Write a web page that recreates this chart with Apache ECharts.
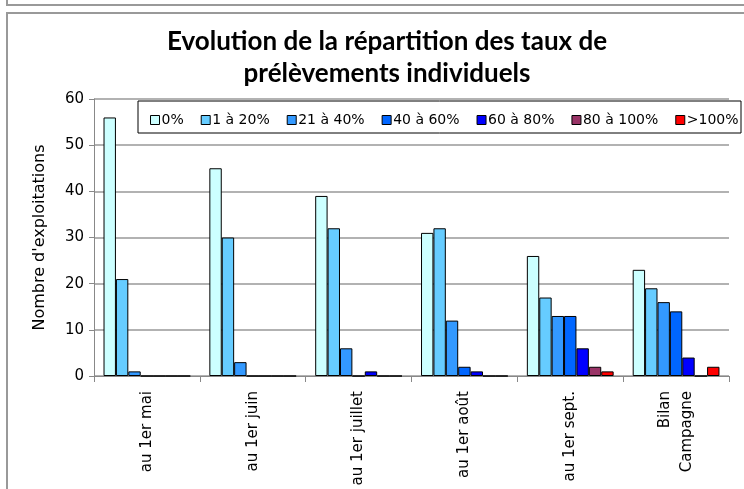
<!DOCTYPE html>
<html><head><meta charset="utf-8">
<script src="https://cdn.jsdelivr.net/npm/echarts@6/dist/echarts.min.js"></script>
<style>html,body{margin:0;padding:0;background:#fff}#c{width:744px;height:489px}</style>
</head><body><div id="c"></div>
<script>
const categories = ['au 1er mai','au 1er juin','au 1er juillet','au 1er août','au 1er sept.','Bilan\nCampagne'];
const seriesNames = ['0%','1 à 20%','21 à 40%','40 à 60%','60 à 80%','80 à 100%','>100%'];
const s0   = [56, 45, 39, 31, 26, 23];
const s20  = [21, 30, 32, 32, 17, 19];
const s40  = [1, 3, 6, 12, 13, 16];
const s60  = [0, 0, 0, 2, 13, 14];
const s80  = [0, 0, 1, 1, 6, 4];
const s100 = [0, 0, 0, 0, 2, 0];
const sOver= [0, 0, 0, 0, 1, 2];
const yTicks = [0, 10, 20, 30, 40, 50, 60];
const colors = ['#CCFFFF','#66CCFF','#3399FF','#0066FF','#0000FF','#993366','#FF0000'];
const allData = [s0, s20, s40, s60, s80, s100, sOver];

const chart = echarts.init(document.getElementById('c'));
const tfont = "Lato,'Liberation Sans',sans-serif";
const font = "'DejaVu Sans',sans-serif";
chart.setOption({
  animation: false,
  title: {
    text: 'Evolution de la répartition des taux de\nprélèvements individuels',
    left: 382, top: 21, textAlign: 'center',
    textStyle: {fontFamily: tfont, fontWeight: 'bold', fontSize: 26, lineHeight: 32, color: '#000'}
  },
  graphic: [
    {type: 'rect', shape: {x: 7, y: -10, width: 760, height: 15}, style: {fill: 'none', stroke: '#999', lineWidth: 2}, silent: true},
    {type: 'rect', shape: {x: 7, y: 13, width: 760, height: 500}, style: {fill: 'none', stroke: '#999', lineWidth: 2}, silent: true},
    {type: 'rect', shape: {x: 138, y: 101, width: 603, height: 32}, style: {fill: '#fff', stroke: '#000', lineWidth: 1}, z: 5, silent: true}
  ],
  legend: {
    left: 145, top: 108, itemGap: 17, itemWidth: 9, itemHeight: 9,
    icon: 'rect', z: 10,
    textStyle: {fontFamily: font, fontSize: 14, color: '#000', padding: [0,0,0,-3]},
    data: seriesNames.map((n,i)=>({name:n, itemStyle:{color:colors[i], borderColor:'#000', borderWidth:1}}))
  },
  grid: {left: 94, right: 15, top: 99, bottom: 113, containLabel: false},
  xAxis: {
    type: 'category', data: categories,
    axisLine: {lineStyle: {color: '#888', width: 1}},
    axisTick: {show: true, alignWithLabel: false, length: 6, lineStyle: {color: '#888'}},
    axisLabel: {rotate: 90, fontFamily: font, fontSize: 15, color: '#000', margin: 15, lineHeight: 22, align: 'right'}
  },
  yAxis: {
    type: 'value', min: 0, max: 60, interval: 10,
    name: "Nombre d'exploitations", nameLocation: 'middle', nameGap: 46, nameRotate: 90,
    nameTextStyle: {fontFamily: font, fontSize: 16, color: '#000'},
    axisLine: {show: true, lineStyle: {color: '#888'}},
    axisTick: {show: true, inside: false, length: 5, lineStyle: {color: '#888'}},
    axisLabel: {fontFamily: font, fontSize: 15, color: '#000', margin: 10,
      formatter: v => yTicks.includes(v) ? String(v) : ''},
    splitLine: {lineStyle: {color: '#999', width: 1.5}}
  },
  series: allData.map((d,i)=>({
    name: seriesNames[i], type: 'bar', data: d,
    barGap: '0%', barCategoryGap: '18%',
    itemStyle: {color: colors[i], borderColor: '#000', borderWidth: 1}
  }))
});
</script></body></html>
